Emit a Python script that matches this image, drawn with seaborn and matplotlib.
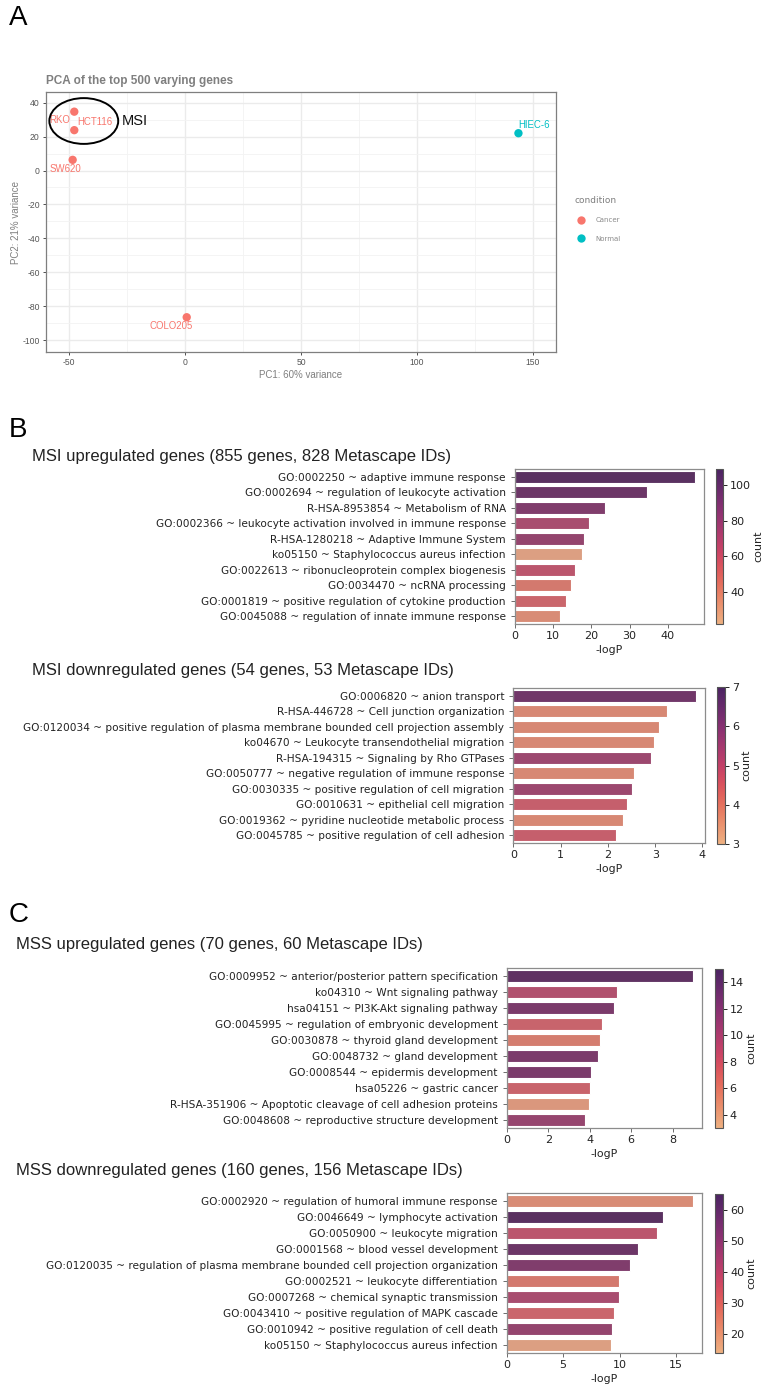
import numpy as np
import pandas as pd
import matplotlib
matplotlib.use("Agg")
import matplotlib.pyplot as plt
import seaborn as sns
from matplotlib.patches import Ellipse
from matplotlib.lines import Line2D
from matplotlib.colors import Normalize
from matplotlib.cm import ScalarMappable
from matplotlib.ticker import MultipleLocator

plt.rcParams["axes.unicode_minus"] = False

# ---------------- data ----------------
samples = ["RKO", "HCT116", "SW620", "COLO205", "HIEC-6"]
pc1 = [-47.8, -47.8, -48.5, 0.7, 143.8]
pc2 = [34.7, 23.8, 6.3, -86.5, 22.0]
condition = ["Cancer", "Cancer", "Cancer", "Cancer", "Normal"]
condition_colors = {"Cancer": "#F8766D", "Normal": "#00BFC4"}

msi_up_terms = [
    "GO:0002250 ~ adaptive immune response",
    "GO:0002694 ~ regulation of leukocyte activation",
    "R-HSA-8953854 ~ Metabolism of RNA",
    "GO:0002366 ~ leukocyte activation involved in immune response",
    "R-HSA-1280218 ~ Adaptive Immune System",
    "ko05150 ~ Staphylococcus aureus infection",
    "GO:0022613 ~ ribonucleoprotein complex biogenesis",
    "GO:0034470 ~ ncRNA processing",
    "GO:0001819 ~ positive regulation of cytokine production",
    "GO:0045088 ~ regulation of innate immune response",
]
msi_up_logp = [47.1, 34.6, 23.6, 19.3, 18.0, 17.5, 15.8, 14.6, 13.4, 11.8]
msi_up_count = [109, 96, 86, 77, 80, 22, 74, 50, 62, 40]

msi_down_terms = [
    "GO:0006820 ~ anion transport",
    "R-HSA-446728 ~ Cell junction organization",
    "GO:0120034 ~ positive regulation of plasma membrane bounded cell projection assembly",
    "ko04670 ~ Leukocyte transendothelial migration",
    "R-HSA-194315 ~ Signaling by Rho GTPases",
    "GO:0050777 ~ negative regulation of immune response",
    "GO:0030335 ~ positive regulation of cell migration",
    "GO:0010631 ~ epithelial cell migration",
    "GO:0019362 ~ pyridine nucleotide metabolic process",
    "GO:0045785 ~ positive regulation of cell adhesion",
]
msi_down_logp = [3.86, 3.25, 3.08, 2.98, 2.91, 2.55, 2.51, 2.41, 2.32, 2.18]
msi_down_count = [7, 3, 3, 3, 6, 3, 6, 5, 3, 5]

mss_up_terms = [
    "GO:0009952 ~ anterior/posterior pattern specification",
    "ko04310 ~ Wnt signaling pathway",
    "hsa04151 ~ PI3K-Akt signaling pathway",
    "GO:0045995 ~ regulation of embryonic development",
    "GO:0030878 ~ thyroid gland development",
    "GO:0048732 ~ gland development",
    "GO:0008544 ~ epidermis development",
    "hsa05226 ~ gastric cancer",
    "R-HSA-351906 ~ Apoptotic cleavage of cell adhesion proteins",
    "GO:0048608 ~ reproductive structure development",
]
mss_up_logp = [8.98, 5.31, 5.15, 4.60, 4.49, 4.39, 4.04, 4.01, 3.96, 3.79]
mss_up_count = [15, 10, 13, 8, 6, 13, 13, 8, 3, 11]

mss_down_terms = [
    "GO:0002920 ~ regulation of humoral immune response",
    "GO:0046649 ~ lymphocyte activation",
    "GO:0050900 ~ leukocyte migration",
    "GO:0001568 ~ blood vessel development",
    "GO:0120035 ~ regulation of plasma membrane bounded cell projection organization",
    "GO:0002521 ~ leukocyte differentiation",
    "GO:0007268 ~ chemical synaptic transmission",
    "GO:0043410 ~ positive regulation of MAPK cascade",
    "GO:0010942 ~ positive regulation of cell death",
    "ko05150 ~ Staphylococcus aureus infection",
]
mss_down_logp = [16.5, 13.8, 13.34, 11.6, 10.88, 9.97, 9.91, 9.52, 9.32, 9.26]
mss_down_count = [25, 65, 40, 58, 52, 31, 46, 33, 47, 14]

# ---------------- figure ----------------
W, H = 763, 1385
fig = plt.figure(figsize=(W / 100, H / 100), dpi=100)


def px_axes(l, t, r, b):
    return fig.add_axes([l / W, 1 - b / H, (r - l) / W, (b - t) / H])


def fig_text(x, y, s, **kw):
    fig.text(x / W, 1 - y / H, s, **kw)


# panel letters
for letter, y in [("A", 18), ("B", 430), ("C", 915)]:
    fig_text(9, y, letter, fontsize=20, va="center", ha="left",
             family="Liberation Sans")

# ---------------- PCA panel ----------------
gray_txt = "#7f7f7f"
ax = px_axes(46, 92, 556, 352)
pca = pd.DataFrame({"sample": samples, "PC1": pc1, "PC2": pc2,
                    "condition": condition})
ax.set_axisbelow(True)
ax.xaxis.set_major_locator(MultipleLocator(50))
ax.xaxis.set_minor_locator(MultipleLocator(25))
ax.yaxis.set_major_locator(MultipleLocator(20))
ax.yaxis.set_minor_locator(MultipleLocator(10))
ax.grid(which="major", color="#ebebeb", lw=1.0)
ax.grid(which="minor", color="#f3f3f3", lw=0.6)
sns.scatterplot(data=pca, x="PC1", y="PC2", hue="condition",
                palette=condition_colors, s=36, edgecolor="none",
                legend=False, ax=ax, zorder=3)
ax.set_xlim(-60, 160)
ax.set_ylim(-107, 46.3)

label_offsets = [(-6.1, -4.9), (9.0, 4.8), (-3.0, -5.3), (-6.7, -4.9), (6.8, 4.9)]
for name, x, y, c, (dx, dy) in zip(samples, pc1, pc2, condition, label_offsets):
    ax.text(x + dx, y + dy, name, color=condition_colors[c], fontsize=6.9,
            ha="center", va="center", family="Liberation Sans", zorder=4)

ax.add_patch(Ellipse((-43.7, 29.2), 29.7, 27.0, fill=False, lw=1.4,
                     edgecolor="black", zorder=5))
ax.text(-27.3, 29.0, "MSI", fontsize=10.5, ha="left", va="center",
        family="Liberation Sans", color="#111111")

for sp in ax.spines.values():
    sp.set_color(gray_txt)
    sp.set_linewidth(0.9)
ax.tick_params(which="major", length=2.5, width=0.6, color="#333333",
               labelsize=6.2, labelcolor="#555555", pad=2)
ax.tick_params(which="minor", length=0)
for lab in ax.get_xticklabels() + ax.get_yticklabels():
    lab.set_family("Liberation Sans")
ax.set_xlabel("PC1: 60% variance", fontsize=7, color=gray_txt,
              family="Liberation Sans", labelpad=2)
ax.set_ylabel("PC2: 21% variance", fontsize=7, color=gray_txt,
              family="Liberation Sans", labelpad=1)
ax.set_title("PCA of the top 500 varying genes", loc="left", fontsize=8.5,
             fontweight="bold", color=gray_txt, family="Liberation Sans", pad=6)

handles = [Line2D([], [], marker="o", ls="none", markersize=6,
                  markerfacecolor=condition_colors[k], markeredgecolor="none")
           for k in ["Cancer", "Normal"]]
leg = fig.legend(handles, ["Cancer", "Normal"], title="condition",
                 loc="upper left", bbox_to_anchor=(568 / W, 1 - 190 / H),
                 frameon=False, fontsize=5, title_fontsize=6.5,
                 handletextpad=1.1, labelspacing=1.75, alignment="left")
leg.get_title().set_color(gray_txt)
for t in leg.get_texts():
    t.set_color("#8a8a8a")

# ---------------- enrichment bar panels ----------------
flare = sns.color_palette("flare", as_cmap=True)


def draw_bars(box, cbox, title, title_xy, terms, logp, counts):
    axb = px_axes(*box)
    cax = px_axes(*cbox)
    df = pd.DataFrame({"term": terms, "logP": logp,
                       "count": [str(c) for c in counts]})
    levels = [str(c) for c in sorted(set(counts))]
    sns.barplot(data=df, x="logP", y="term", hue="count", hue_order=levels,
                palette="flare", dodge=False, legend=False, ax=axb,
                edgecolor="white", linewidth=0.8)
    axb.set_ylabel("")
    axb.set_xlabel("-logP", fontsize=7.8, color="#222222", labelpad=3)
    axb.tick_params(axis="y", labelsize=7.6, length=3, width=0.6,
                    color="#555555", labelcolor="#222222")
    axb.tick_params(axis="x", labelsize=8, length=3, width=0.6,
                    color="#555555", labelcolor="#222222", pad=2)
    for sp in axb.spines.values():
        sp.set_color("#8c8c8c")
        sp.set_linewidth(0.9)
    sm = ScalarMappable(norm=Normalize(min(counts), max(counts)), cmap=flare)
    cb = fig.colorbar(sm, cax=cax)
    cb.set_label("count", fontsize=8, color="#222222", labelpad=2)
    cb.ax.tick_params(labelsize=8, length=3, width=0.6, labelcolor="#222222",
                      pad=2)
    cb.outline.set_edgecolor("#555555")
    cb.outline.set_linewidth(0.8)
    fig_text(title_xy[0], title_xy[1], title, fontsize=12, va="center",
             ha="left", family="Liberation Sans", color="#222222")


draw_bars((514.7, 469, 704, 624), (716, 469, 723, 624),
          "MSI upregulated genes (855 genes, 828 Metascape IDs)", (32, 457),
          msi_up_terms, msi_up_logp, msi_up_count)
draw_bars((513.3, 688, 705, 843), (717, 687, 725, 844),
          "MSI downregulated genes (54 genes, 53 Metascape IDs)", (32, 671),
          msi_down_terms, msi_down_logp, msi_down_count)
draw_bars((506.7, 968, 702.3, 1128), (715, 969, 722.7, 1128),
          "MSS upregulated genes (70 genes, 60 Metascape IDs)", (16, 945),
          mss_up_terms, mss_up_logp, mss_up_count)
draw_bars((506.7, 1193, 702.3, 1353), (715, 1194, 723, 1353),
          "MSS downregulated genes (160 genes, 156 Metascape IDs)", (16, 1171),
          mss_down_terms, mss_down_logp, mss_down_count)

fig.savefig("out.png", dpi=100)
